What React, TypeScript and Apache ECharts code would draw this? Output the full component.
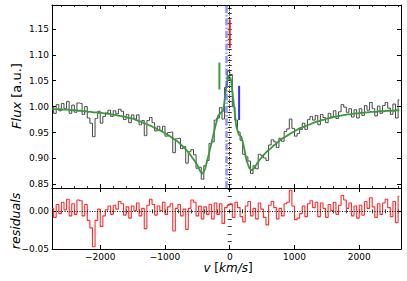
import React, { useEffect, useRef } from "react";
import * as echarts from "echarts";

// ---------- data ----------
const V_START = -2740; // km/s, first bin centre
const V_STEP = 40; // km/s, bin width

// smooth model fit (flux, a.u.) at each bin
const FIT = [
  0.995, 0.995, 0.995, 0.995, 0.994, 0.994, 0.994, 0.993, 0.993, 0.993,
  0.992, 0.992, 0.991, 0.991, 0.99, 0.99, 0.989, 0.989, 0.988, 0.988,
  0.987, 0.986, 0.986, 0.985, 0.984, 0.983, 0.982, 0.981, 0.98, 0.979,
  0.978, 0.977, 0.975, 0.973, 0.971, 0.969, 0.967, 0.965, 0.963, 0.96,
  0.958, 0.955, 0.953, 0.95, 0.947, 0.944, 0.941, 0.937, 0.934, 0.93,
  0.925, 0.92, 0.915, 0.909, 0.902, 0.895, 0.887, 0.876, 0.87, 0.88,
  0.9, 0.92, 0.942, 0.963, 0.982, 0.988, 0.992, 1.032, 1.06, 1.052,
  1.008, 0.962, 0.946, 0.942, 0.922, 0.896, 0.882, 0.877, 0.882, 0.89,
  0.897, 0.903, 0.909, 0.914, 0.918, 0.923, 0.927, 0.931, 0.935, 0.939,
  0.942, 0.945, 0.948, 0.951, 0.954, 0.957, 0.959, 0.961, 0.963, 0.965,
  0.967, 0.969, 0.971, 0.972, 0.974, 0.975, 0.977, 0.978, 0.979, 0.98,
  0.981, 0.982, 0.983, 0.984, 0.985, 0.985, 0.986, 0.987, 0.987, 0.988,
  0.988, 0.989, 0.989, 0.99, 0.99, 0.99, 0.991, 0.991, 0.991, 0.992,
  0.992, 0.992, 0.992, 0.993, 0.993,
];

// residuals (observed flux - fit) at each bin
const RESIDUALS = [
  0.004, -0.008, 0.009, -0.003, 0.012, 0.002, 0.016, -0.006, 0.01, -0.004,
  0.015, 0.014, -0.006, 0.009, -0.012, -0.022, -0.047, -0.012, 0.003, -0.02,
  -0.006, 0.002, 0.007, -0.004, 0.008, 0.003, 0.013, 0.01, -0.005, 0.006,
  -0.009, 0.007, 0.001, 0.011, -0.006, 0.004, -0.023, 0.008, 0.016, 0.009,
  -0.005, 0.007, 0.001, 0.012, -0.004, 0.006, 0.01, -0.026, 0.004, 0.009,
  -0.006, 0.003, -0.024, 0.004, 0.015, 0.012, -0.006, 0.007, -0.01, 0.006,
  -0.004, 0.009, -0.01, 0.011, -0.004, 0.01, -0.016, 0.005, 0.008, 0.01,
  -0.008, 0.012, 0.005, -0.007, -0.014, 0.007, 0.013, -0.006, 0.004, -0.01,
  0.011, 0.003, -0.008, -0.018, 0.008, 0.013, 0.005, -0.01, 0.004, -0.006,
  0.01, 0.012, 0.028, 0.007, -0.011, -0.009, -0.003, 0.007, -0.007, 0.01,
  0.014, 0.005, 0.012, -0.007, 0.011, 0.004, -0.008, 0.009, 0.001, 0.012,
  -0.004, 0.008, 0.021, 0.015, 0.004, 0.011, -0.006, 0.007, -0.009, 0.008,
  -0.005, 0.013, 0.004, 0.018, 0.006, -0.008, 0.01, -0.004, 0.011, 0.016,
  0.005, -0.007, 0.013, -0.015, 0.02,
];

const VELOCITY = FIT.map((_, i) => V_START + i * V_STEP);
// observed flux = fit + residual
const FLUX = FIT.map((f, i) => Math.round((f + RESIDUALS[i]) * 10000) / 10000);

// reference velocities (vertical lines)
const V_SYSTEMIC = 0; // black dotted
const V_SHIFTED = -60; // blue dash-dot

// short line markers: [velocity, lower flux, upper flux]
const MARK_RED = [0, 1.113, 1.168];
const MARK_GREEN = [-160, 1.033, 1.085];
const MARK_BLUE = [145, 0.974, 1.04];

// axes
const V_MIN = -2745;
const V_MAX = 2645;
const FLUX_MIN = 0.843;
const FLUX_MAX = 1.196;
const RES_MIN = -0.05;
const RES_MAX = 0.031;
const V_TICKS = [-2000, -1000, 0, 1000, 2000];
const FLUX_TICKS = [0.85, 0.9, 0.95, 1.0, 1.05, 1.1, 1.15];
const RES_TICKS = [-0.05, 0.0];
const V_MINOR = Array.from({ length: 27 }, (_, i) => -2600 + i * 200);
const FLUX_MINOR = Array.from({ length: 35 }, (_, i) => Math.round((0.85 + i * 0.01) * 100) / 100);
const RES_MINOR = Array.from({ length: 9 }, (_, i) => Math.round((-0.05 + i * 0.01) * 100) / 100);

const FONT = "DejaVu Sans";
const minus = (s: string) => s.replace("-", "\u2212");

function makeAxes(
  gridIndex: number,
  position: string,
  min: number,
  max: number,
  major: number[],
  minor: number[],
  labels: boolean,
  fmt: (v: number) => string
) {
  const common = {
    type: "value",
    gridIndex,
    position,
    min,
    max,
    splitLine: { show: false },
    scale: true,
  };
  return [
    {
      ...common,
      axisLine: { show: true, onZero: false, lineStyle: { color: "#000", width: 1 } },
      axisTick: {
        show: true,
        inside: true,
        length: 4,
        customValues: major,
        lineStyle: { color: "#000", width: 1 },
      },
      axisLabel: {
        show: labels,
        customValues: major,
        formatter: fmt,
        fontSize: 9,
        fontFamily: FONT,
        color: "#000",
        margin: 3,
      },
    },
    {
      ...common,
      axisLine: { show: false },
      axisTick: {
        show: true,
        inside: true,
        length: 2,
        customValues: minor,
        lineStyle: { color: "#000", width: 0.8 },
      },
      axisLabel: { show: false },
    },
  ];
}

const fmtV = (v: number) => minus(String(Math.round(v)));
const fmt2 = (v: number) => minus(v.toFixed(2));

export default function App() {
  const ref = useRef<HTMLDivElement>(null);

  useEffect(() => {
    if (!ref.current) return;
    const chart = echarts.init(ref.current, undefined, { renderer: "svg" });

    const xAxis = [
      ...makeAxes(0, "bottom", V_MIN, V_MAX, V_TICKS, V_MINOR, false, fmtV), // 0,1
      ...makeAxes(0, "top", V_MIN, V_MAX, V_TICKS, V_MINOR, false, fmtV), // 2,3
      ...makeAxes(1, "bottom", V_MIN, V_MAX, V_TICKS, V_MINOR, true, fmtV), // 4,5
      ...makeAxes(1, "top", V_MIN, V_MAX, V_TICKS, V_MINOR, false, fmtV), // 6,7
    ];
    const yAxis = [
      ...makeAxes(0, "left", FLUX_MIN, FLUX_MAX, FLUX_TICKS, FLUX_MINOR, true, fmt2), // 0,1
      ...makeAxes(0, "right", FLUX_MIN, FLUX_MAX, FLUX_TICKS, FLUX_MINOR, false, fmt2), // 2,3
      ...makeAxes(1, "left", RES_MIN, RES_MAX, RES_TICKS, RES_MINOR, true, fmt2), // 4,5
      ...makeAxes(1, "right", RES_MIN, RES_MAX, RES_TICKS, RES_MINOR, false, fmt2), // 6,7
    ];

    const marker = (m: number[], color: string) => ({
      type: "line",
      xAxisIndex: 0,
      yAxisIndex: 0,
      data: [
        [m[0], m[1]],
        [m[0], m[2]],
      ],
      showSymbol: false,
      symbol: "none",
      lineStyle: { color, width: 2 },
      z: 6,
      silent: true,
    });

    chart.setOption({
      animation: false,
      backgroundColor: "#fff",
      grid: [
        { left: 52, top: 5, width: 349, height: 183 },
        { left: 52, top: 188, width: 349, height: 61 },
      ],
      xAxis,
      yAxis,
      graphic: [
        {
          type: "text",
          x: 16,
          y: 96,
          rotation: Math.PI / 2,
          style: {
            text: "{i|Flux} [a.u.]",
            rich: { i: { fontStyle: "italic", fontSize: 13, fontFamily: FONT, fill: "#000" } },
            fontSize: 13,
            fontFamily: FONT,
            fill: "#000",
            align: "center",
            verticalAlign: "middle",
          },
        },
        {
          type: "text",
          x: 15,
          y: 221,
          rotation: Math.PI / 2,
          style: {
            text: "residuals",
            fontStyle: "italic",
            fontSize: 12.5,
            fontFamily: FONT,
            fill: "#000",
            align: "center",
            verticalAlign: "middle",
          },
        },
        {
          type: "text",
          x: 228,
          y: 268,
          style: {
            text: "{i|v} [{i|km/s}]",
            rich: { i: { fontStyle: "italic", fontSize: 12, fontFamily: FONT, fill: "#000" } },
            fontSize: 12,
            fontFamily: FONT,
            fill: "#000",
            align: "center",
            verticalAlign: "middle",
          },
        },
      ],
      series: [
        {
          type: "line",
          name: "flux",
          xAxisIndex: 0,
          yAxisIndex: 0,
          step: "middle",
          data: VELOCITY.map((v, i) => [v, FLUX[i]]),
          showSymbol: false,
          symbol: "none",
          lineStyle: { color: "#464646", width: 1 },
          z: 2,
          silent: true,
        },
        {
          type: "line",
          name: "fit",
          xAxisIndex: 0,
          yAxisIndex: 0,
          data: VELOCITY.map((v, i) => [v, FIT[i]]),
          showSymbol: false,
          symbol: "none",
          lineStyle: { color: "#3a9a3a", width: 1.8 },
          z: 3,
          silent: true,
          markLine: {
            silent: true,
            symbol: "none",
            label: { show: false },
            animation: false,
            data: [
              {
                xAxis: V_SHIFTED,
                lineStyle: { color: "rgba(90,90,255,0.65)", width: 2.5, type: [7, 2, 1.5, 2] },
              },
              {
                xAxis: V_SYSTEMIC,
                lineStyle: { color: "#000", width: 1, type: [1, 1.5] },
              },
            ],
          },
        },
        marker(MARK_RED, "#d42a2a"),
        marker(MARK_GREEN, "#3aa03a"),
        marker(MARK_BLUE, "#3030ff"),
        {
          type: "line",
          name: "residuals",
          xAxisIndex: 4,
          yAxisIndex: 4,
          step: "middle",
          data: VELOCITY.map((v, i) => [v, RESIDUALS[i]]),
          showSymbol: false,
          symbol: "none",
          lineStyle: { color: "#ff2e2e", width: 1.1 },
          z: 2,
          silent: true,
          markLine: {
            silent: true,
            symbol: "none",
            label: { show: false },
            animation: false,
            data: [{ yAxis: 0, lineStyle: { color: "#000", width: 1, type: [1, 1.5] } }],
          },
        },
      ],
    });

    return () => chart.dispose();
  }, []);

  return (
    <div
      ref={ref}
      style={{ position: "fixed", left: 0, top: 0, width: 407, height: 281, background: "#fff" }}
    />
  );
}
